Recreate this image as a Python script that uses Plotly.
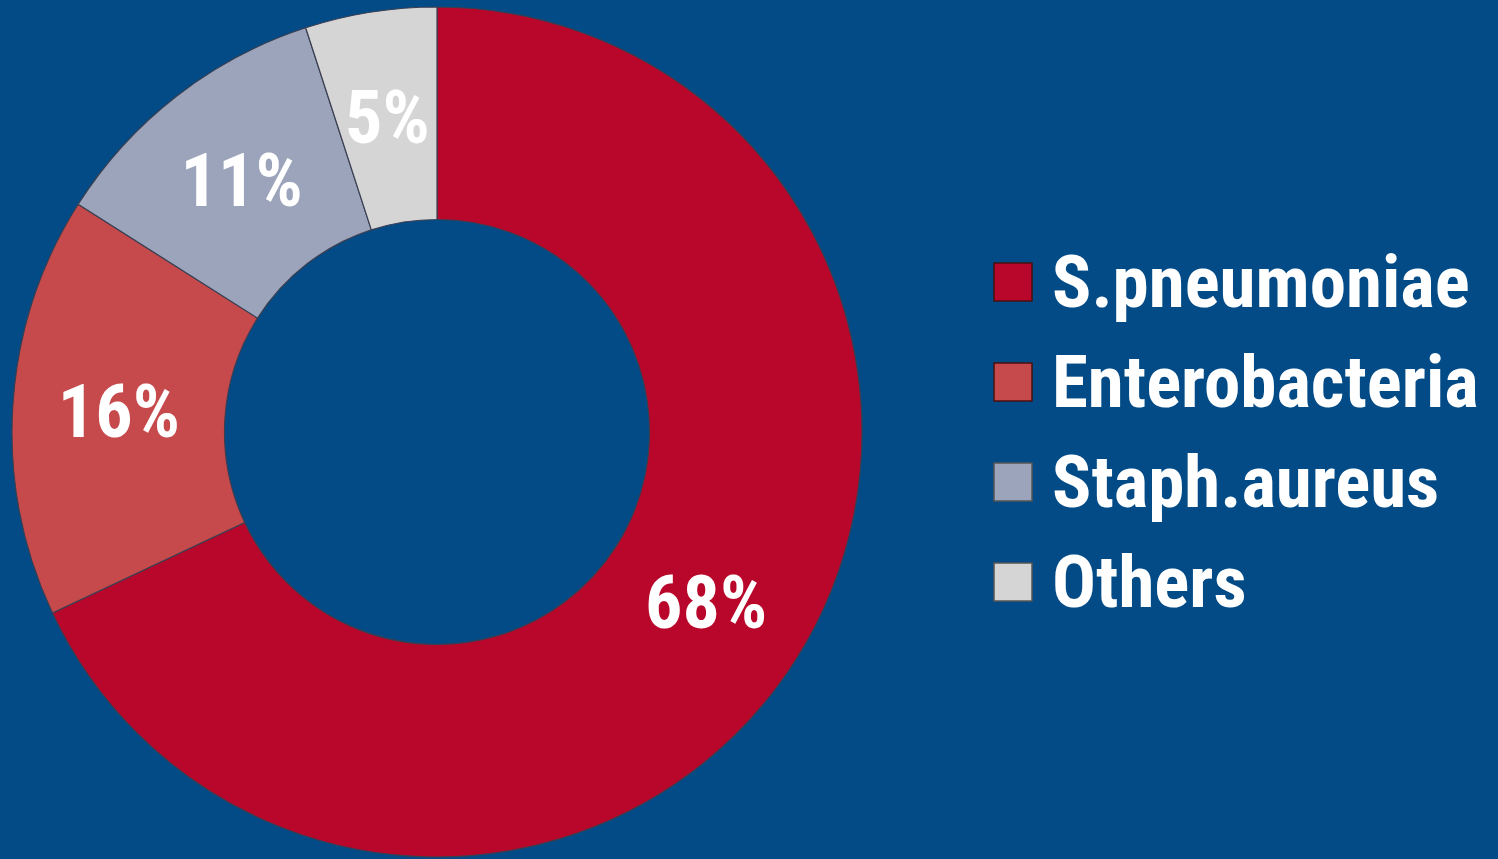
import math
import plotly.graph_objects as go

labels = ["S.pneumoniae", "Enterobacteria", "Staph.aureus", "Others"]
values = [68, 16, 11, 5]
colors = ["#B8072A", "#C64A4C", "#9BA4BB", "#D5D5D5"]

W, H = 1498, 859
BG = "#024B86"
FONT = "Roboto Condensed, Liberation Sans Narrow, Arial Narrow, Liberation Sans, Arial, sans-serif"
HOLE = 0.5
DOM_X = [12 / W, 862 / W]
DOM_Y = [2 / H, 852 / H]

total = sum(values)
# the smallest slice gets its label placed on the ring middle (plotly would push it outward)
textpos = ["inside" if v / total > 0.06 else "none" for v in values]

fig = go.Figure()
fig.add_trace(go.Pie(
    labels=labels,
    values=values,
    hole=HOLE,
    sort=False,
    direction="clockwise",
    rotation=0,
    marker=dict(colors=colors, line=dict(color="#3a3f52", width=1.2)),
    texttemplate="%{percent:.0%}",
    textposition=textpos,
    insidetextorientation="horizontal",
    textfont=dict(family=FONT, size=74, color="white", weight="bold"),
    domain=dict(x=DOM_X, y=DOM_Y),
    showlegend=False,
))

# labels for small slices, at the middle of the ring
cx = (DOM_X[0] + DOM_X[1]) / 2 * W
cy = (DOM_Y[0] + DOM_Y[1]) / 2 * H
R = min((DOM_X[1] - DOM_X[0]) * W, (DOM_Y[1] - DOM_Y[0]) * H) / 2
rmid = R * (1 + HOLE) / 2
cum = 0
for v, tp in zip(values, textpos):
    frac = (cum + v / 2) / total
    cum += v
    if tp != "none":
        continue
    ang = 2 * math.pi * frac
    px = cx + rmid * math.sin(ang)
    py = cy + rmid * math.cos(ang)  # paper y upward
    fig.add_annotation(x=px / W, y=py / H, xref="paper", yref="paper",
                       text=f"{round(100 * v / total)}%", showarrow=False,
                       xanchor="center", yanchor="middle",
                       font=dict(family=FONT, size=74, color="white", weight="bold"))

# custom legend built from labels / colors
leg_x0, leg_y0, step, sq = 994, 263, 100, 38
for i, (lab, col) in enumerate(zip(labels, colors)):
    y = leg_y0 + i * step
    fig.add_shape(type="rect", xref="paper", yref="paper",
                  x0=leg_x0 / W, x1=(leg_x0 + sq) / W,
                  y0=1 - (y + sq) / H, y1=1 - y / H,
                  fillcolor=col, line=dict(color="#4a1010" if i < 2 else "#555", width=1.5))
    fig.add_annotation(x=1050 / W, y=1 - (y + sq / 2) / H, xref="paper", yref="paper",
                       text=lab, showarrow=False, xanchor="left", yanchor="middle",
                       font=dict(family=FONT, size=73, color="white", weight="bold"))

fig.update_layout(
    width=W, height=H,
    margin=dict(l=0, r=0, t=0, b=0),
    paper_bgcolor=BG, plot_bgcolor=BG,
)
fig.write_html("out.html")
